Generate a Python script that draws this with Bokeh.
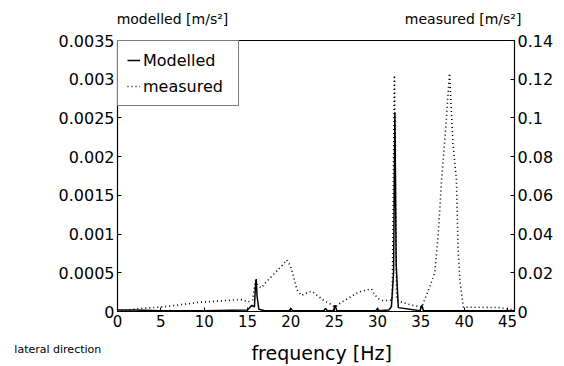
from bokeh.plotting import figure
from bokeh.models import Range1d, LinearAxis, FixedTicker, Legend, LegendItem, Label
from bokeh.embed import file_html
from bokeh.resources import INLINE

# ---- data ----
freq_mod = [0, 2, 5, 10, 15, 15.5, 15.8, 15.9, 16.0, 16.1, 16.3, 17, 19.8, 20.0, 20.2,
            23.8, 24.0, 24.2, 24.9, 25.1, 25.3, 29.8, 30.0, 30.2, 31.3, 31.6, 31.85,
            32.0, 32.15, 32.4, 34.9, 35.1, 35.3, 40, 45, 45.8]
modelled = [0.00002, 0.00002, 0.00001, 0.00001, 0.00002, 0.00008, 0.00006, 0.0003,
            0.00042, 0.0002, 0.00003, 0.00001, 0.00001, 0.00004, 0.00001, 0.00001,
            0.00004, 0.00001, 0.00001, 0.00008, 0.00001, 0.00001, 0.00004, 0.00001,
            0.00002, 0.00006, 0.0005, 0.00257, 0.0006, 0.00005, 0.00001, 0.00008,
            0.00001, 0.00001, 0.00001, 0.00001]

freq_meas = [0, 2.3, 5.7, 9.5, 12, 14.2, 15.1, 15.6, 15.9, 16.3, 16.6, 17.1, 19.0,
             19.5, 19.9, 20.1, 20.4, 20.7, 21.2, 22.0, 22.4, 23.4, 23.9, 24.5, 25.1,
             25.6, 26.2, 27.8, 29.3, 29.6, 30.1, 30.6, 31.2, 31.7, 31.95, 32.2, 32.8,
             34.1, 35.1, 36.0, 36.6, 37.0, 37.2, 37.4, 37.7, 37.9, 38.1, 38.3, 38.5,
             38.7, 39.1, 39.3, 39.5, 39.9, 42, 44, 45.5]
measured = [0, 0.0014, 0.0026, 0.0048, 0.0055, 0.0062, 0.005, 0.006, 0.016, 0.013,
            0.0122, 0.015, 0.0238, 0.0267, 0.024, 0.0215, 0.0164, 0.0112, 0.0083,
            0.010, 0.0105, 0.0071, 0.0053, 0.004, 0.0022, 0.004, 0.0057, 0.010,
            0.0117, 0.0091, 0.0066, 0.0057, 0.0057, 0.006, 0.122, 0.006, 0.0048,
            0.0031, 0.0022, 0.0126, 0.020, 0.040, 0.054, 0.069, 0.085, 0.097, 0.11,
            0.123, 0.105, 0.087, 0.068, 0.0315, 0.016, 0.0022, 0.0022, 0.002, 0.001]

x_ticks = [0, 5, 10, 15, 20, 25, 30, 35, 40, 45]
left_ticks = [0, 0.0005, 0.001, 0.0015, 0.002, 0.0025, 0.003, 0.0035]
left_labels = ["0", "0.0005", "0.001", "0.0015", "0.002", "0.0025", "0.003", "0.0035"]
right_ticks = [0, 0.02, 0.04, 0.06, 0.08, 0.1, 0.12, 0.14]
right_labels = ["0", "0.02", "0.04", "0.06", "0.08", "0.1", "0.12", "0.14"]

FONT = "DejaVu Sans"

p = figure(width=564, height=366, frame_width=397, frame_height=271,
           min_border_left=117, min_border_right=50, min_border_top=40,
           min_border_bottom=55, output_backend="svg", toolbar_location=None,
           x_range=Range1d(0, 45.8), y_range=Range1d(0, 0.0035))
p.extra_y_ranges = {"meas": Range1d(0, 0.14)}
p.xgrid.visible = False
p.ygrid.visible = False
p.outline_line_color = "black"
p.outline_line_width = 1.2
p.background_fill_color = "white"
p.border_fill_color = "white"

r1 = p.line(freq_mod, modelled, line_color="black", line_width=1.5)
r2 = p.line(freq_meas, measured, line_color="black", line_width=1.6,
            line_dash="1 3", y_range_name="meas")

right_axis = LinearAxis(y_range_name="meas")
p.add_layout(right_axis, "right")

for ax in [p.xaxis[0], p.yaxis[0], right_axis]:
    ax.axis_line_color = "black"
    ax.major_tick_line_color = "black"
    ax.minor_tick_line_color = None
    ax.major_tick_in = 4
    ax.major_tick_out = 0
    ax.major_label_text_font = FONT
    ax.major_label_text_font_size = "16px"
    ax.major_label_text_color = "black"
    ax.major_label_standoff = 3

p.xaxis[0].major_label_text_font_size = "15px"
p.xaxis[0].ticker = FixedTicker(ticks=x_ticks)
p.yaxis[0].ticker = FixedTicker(ticks=left_ticks)
p.yaxis[0].major_label_overrides = {t: l for t, l in zip(left_ticks, left_labels)}
right_axis.ticker = FixedTicker(ticks=right_ticks)
right_axis.major_label_overrides = {t: l for t, l in zip(right_ticks, right_labels)}

legend = Legend(items=[LegendItem(label="Modelled", renderers=[r1]),
                       LegendItem(label="measured", renderers=[r2])],
                location="top_left", margin=0, padding=9, spacing=6,
                glyph_width=13, glyph_height=20, label_standoff=3, label_width=86,
                label_text_font=FONT, label_text_font_size="16px",
                label_text_color="black",
                border_line_color="black", border_line_width=1.2,
                background_fill_alpha=1.0)
p.add_layout(legend)

p.add_layout(Label(x=-0.1, y=0.003775, text="modelled [m/s²]", text_font=FONT,
                   text_font_size="14px", text_baseline="middle",
                   text_color="black"), "above")
p.add_layout(Label(x=46.6, y=0.003775, text="measured [m/s²]", text_font=FONT,
                   text_font_size="14px", text_baseline="middle",
                   text_align="right", text_color="black"), "above")
p.add_layout(Label(x=23.55, y=-0.00053, text="frequency [Hz]", text_font=FONT,
                   text_font_size="19px", text_baseline="middle",
                   text_align="center", text_color="black"), "below")
p.add_layout(Label(x=-11.9, y=-0.000493, text="lateral direction", text_font=FONT,
                   text_font_size="11px", text_baseline="middle",
                   text_color="black"), "below")

open("out.html", "w").write(file_html(p, INLINE))
